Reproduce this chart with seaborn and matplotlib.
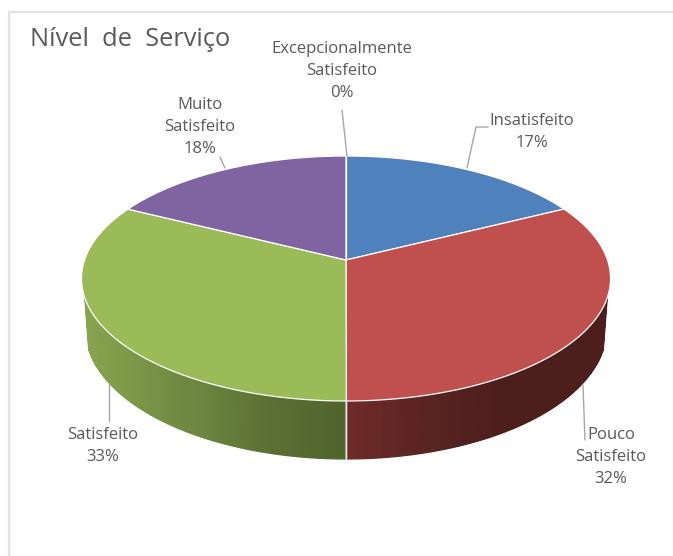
import numpy as np
import seaborn as sns
import matplotlib
matplotlib.use("Agg")
import matplotlib.pyplot as plt

categories = ["Insatisfeito", "Pouco\nSatisfeito", "Satisfeito", "Muito\nSatisfeito", "Excepcionalmente\nSatisfeito"]
values = [17.49, 32.49, 32.52, 17.5, 0.0]
top_colors = ["#4f81bd", "#c0504d", "#9bbb59", "#8064a2", "#4bacc6"]

sns.set_theme(style="white")
plt.rcParams["font.family"] = ["Open Sans", "DejaVu Sans"]

# pie geometry in image pixels, with some perspective like the excel 3d pie
cx, cy = 346, 260
rx, ry = 261.5, 119.7
persp = 0.151
depth = 49.2


def top_xy(a):
    d = 1 + persp * np.cos(a)
    return cx + rx * np.sin(a) / d, cy - ry * np.cos(a) / d


def bottom_xy(a):
    d = 1 + persp * np.cos(a)
    return cx + 0.985 * rx * np.sin(a) / d, cy - ry * np.cos(a) / d + depth / d


fig = plt.figure(figsize=(6.73, 5.56), dpi=100)
ax = fig.add_axes([0, 0, 1, 1])
ax.set_xlim(0, 673)
ax.set_ylim(556, 0)
ax.axis("off")

# chart frame
ax.plot([9, 9, 673], [556, 12, 12], color="#e3e3e3", lw=1.6)

# slice angles, clockwise from 12 o'clock
edges = np.cumsum([0] + values) / sum(values) * 2 * np.pi

# side wall: strips so the shading can change along the rim
green_wall = sns.blend_palette(["#8ba652", "#7d9848", "#6c8540", "#5a7033", "#4f642c"], 80)
red_wall = sns.blend_palette(["#6f2a28", "#5a2422", "#4c1f1d", "#4c1f1d", "#4c1f1d"], 80)
walls = {1: red_wall, 2: green_wall}
wall_start, wall_end = np.pi / 2 + 0.305, 3 * np.pi / 2 - 0.305
for i, pal in walls.items():
    a0, a1 = max(edges[i], wall_start), min(edges[i + 1], wall_end)
    grid = np.linspace(a0, a1, 90)
    for a, b in zip(grid[:-1], grid[1:]):
        x1, y1 = top_xy(np.array([a, b]))
        x2, y2 = bottom_xy(np.array([b, a]))
        u = abs(np.sin((a + b) / 2))
        t = u if i == 1 else 1 - u
        c = pal[min(int(t * 79), 79)]
        ax.fill(np.r_[x1, x2], np.r_[y1, y2], facecolor=c, edgecolor=c, lw=0.9)

# white seam on the wall between the red and green slices
seam = edges[2]
ax.plot([top_xy(seam)[0], bottom_xy(seam)[0]], [top_xy(seam)[1], bottom_xy(seam)[1]],
        color="#e8e8e8", lw=1.3)

# top face
for i, col in enumerate(top_colors):
    grid = np.linspace(edges[i], edges[i + 1], 200)
    x, y = top_xy(grid)
    ax.fill(np.r_[cx, x], np.r_[cy, y], facecolor=col, edgecolor="white", lw=0.9, joinstyle="round")

# leader lines
leaders = [
    ([488, 476, 467], [127, 127, 168]),
    ([583, 585], [385, 440]),
    ([109, 109], [383, 421]),
    ([220, 225], [157, 168]),
    ([342, 347], [110, 156]),
]
for lx, ly in leaders:
    ax.plot(lx, ly, color="#a6a6a6", lw=1)

# labels
label_x = [532, 611, 103, 200, 342]
label_y = [132, 457, 446, 127, 71]
for name, v, lx, ly in zip(categories, values, label_x, label_y):
    ax.text(lx, ly, f"{name}\n{v:.0f}%", ha="center", va="center", fontsize=12,
            color="#595959", linespacing=1.53)

ax.text(30, 40, "Nível  de  Serviço", ha="left", va="center", fontsize=18.3, color="#595959")

fig.savefig("out.png", dpi=100)
